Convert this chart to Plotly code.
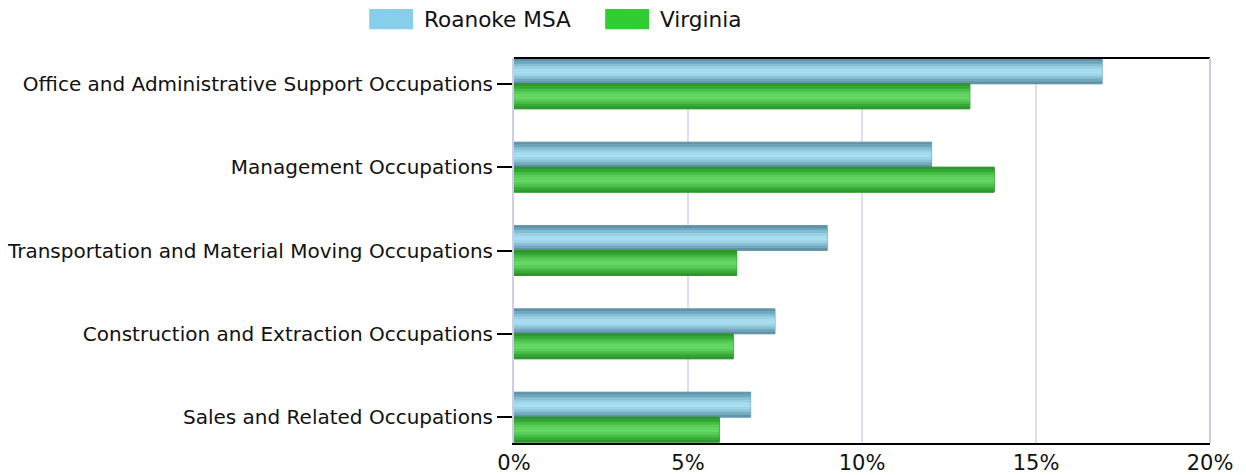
import plotly.graph_objects as go

categories = [
    "Office and Administrative Support Occupations",
    "Management Occupations",
    "Transportation and Material Moving Occupations",
    "Construction and Extraction Occupations",
    "Sales and Related Occupations",
]
roanoke = [16.9, 12.0, 9.0, 7.5, 6.8]
virginia = [13.1, 13.8, 6.4, 6.3, 5.9]
series_names = ["Roanoke MSA", "Virginia"]
x_ticks = [0, 5, 10, 15, 20]
x_tick_labels = ["0%", "5%", "10%", "15%", "20%"]

FONT = "DejaVu Sans, Verdana, sans-serif"
BAR_W = 0.30

# gradient stripes (top -> bottom) for each series
roanoke_grad = ["#5e93a9", "#6fa6bc", "#85bdd2", "#98cfe3", "#a6dcee", "#a9def0",
                "#9fd3e6", "#8cc0d4", "#76a8bd", "#6393a8"]
virginia_grad = ["#2c992c", "#37a837", "#48bb48", "#59cc59", "#64d664", "#66d866",
                 "#5bcd5b", "#4cbd4c", "#3aa93a", "#2e9a2e"]

fig = go.Figure()

def add_series(values, name, legend_color, grad, offset0, edge):
    fig.add_trace(go.Bar(
        y=categories, x=values, orientation="h", name=name,
        width=BAR_W, offset=offset0,
        marker=dict(color=legend_color, line=dict(color=edge, width=1)),
        showlegend=False, hoverinfo="x+name",
    ))
    n = len(grad)
    sw = BAR_W / n
    for i, c in enumerate(grad):
        fig.add_trace(go.Bar(
            y=categories, x=values, orientation="h", name=name,
            width=sw * 1.02, offset=offset0 + i * sw,
            marker=dict(color=c, line=dict(width=0)),
            showlegend=False, hoverinfo="skip",
        ))

add_series(roanoke, series_names[0], "#87ceeb", roanoke_grad, -BAR_W, "#6a9db2")
add_series(virginia, series_names[1], "#32cd32", virginia_grad, 0.0, "#2a8f2a")

# legend drawn as swatches + text (paper coords relative to plot area)
legend_items = [(series_names[0], "#87ceeb", -0.208), (series_names[1], "#32cd32", 0.131)]
shapes = []
annotations = []
for name, col, x0 in legend_items:
    shapes.append(dict(type="rect", xref="paper", yref="paper",
                       x0=x0, x1=x0 + 0.063, y0=1.075, y1=1.127,
                       fillcolor=col, line=dict(width=0)))
    annotations.append(dict(text=name, xref="paper", yref="paper",
                            x=x0 + 0.076, y=1.101, xanchor="left", yanchor="middle",
                            showarrow=False, font=dict(family=FONT, size=21.6, color="#111")))

# top and right frame
shapes.append(dict(type="line", xref="paper", yref="paper", x0=0, x1=1, y0=1, y1=1,
                   line=dict(color="#000000", width=2)))
shapes.append(dict(type="line", xref="paper", yref="paper", x0=1, x1=1, y0=0, y1=1,
                   line=dict(color="#cdc9e4", width=2)))

fig.update_layout(
    barmode="overlay",
    width=1238, height=467,
    margin=dict(l=506, r=36, t=50, b=32, autoexpand=False),
    paper_bgcolor="white", plot_bgcolor="white",
    font=dict(family=FONT, size=20, color="#111"),
    showlegend=False,
    shapes=shapes, annotations=annotations,
    xaxis=dict(
        range=[0, 20], tickvals=x_ticks, ticktext=x_tick_labels,
        showgrid=True, gridcolor="#e0dcf2", gridwidth=2,
        zeroline=False, showline=True, linecolor="#000000", linewidth=2,
        ticks="", tickfont=dict(family=FONT, size=21, color="#111"),
        automargin=False,
    ),
    yaxis=dict(
        categoryorder="array", categoryarray=categories,
        range=[4.31, -0.31],
        showgrid=False, zeroline=False,
        showline=True, linecolor="#d0cce6", linewidth=2,
        ticks="outside", ticklen=15, tickcolor="#000000", tickwidth=2,
        tickfont=dict(family=FONT, size=20, color="#111"),
        automargin=False,
    ),
)

fig.write_html("out.html")
